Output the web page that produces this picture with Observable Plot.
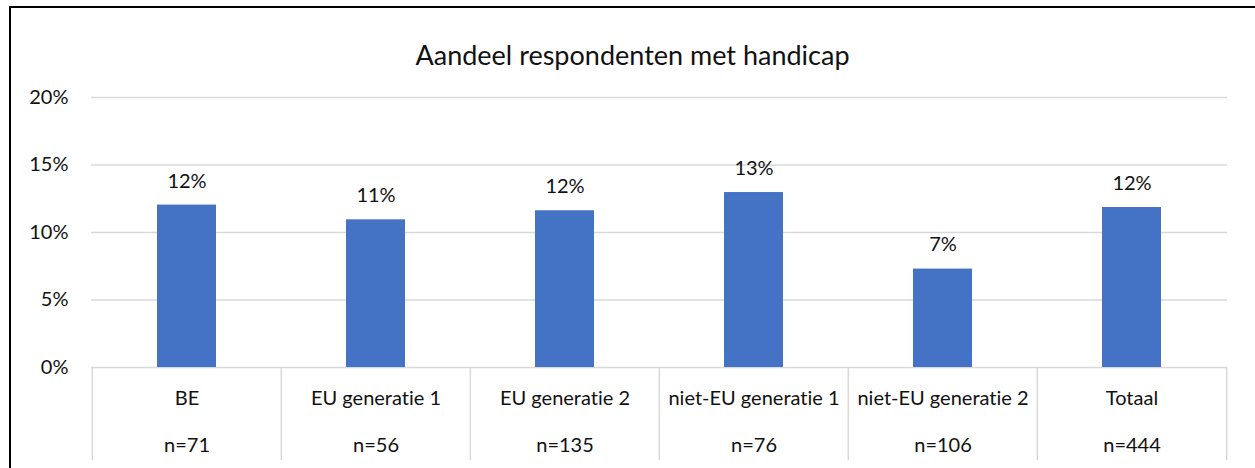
<!DOCTYPE html>
<html>
<head>
<meta charset="utf-8">
<script src="https://cdn.jsdelivr.net/npm/d3@7"></script>
<script src="https://cdn.jsdelivr.net/npm/@observablehq/plot@0.6"></script>
<style>
  html, body { margin: 0; padding: 0; background: #fff; overflow: hidden; }
  #wrap { position: relative; width: 1255px; height: 468px; }
  #border { position: absolute; left: 9px; top: 6px; width: 1270px; height: 480px; border: 2px solid #000; box-sizing: border-box; pointer-events: none; }
  #chart { position: absolute; left: 0; top: 0; }
  svg text { font-variant-ligatures: none; font-feature-settings: "liga" 0; }
</style>
</head>
<body>
<div id="wrap"><div id="chart"></div><div id="border"></div></div>
<script>
const title = "Aandeel respondenten met handicap";
const categories = ["BE", "EU generatie 1", "EU generatie 2", "niet-EU generatie 1", "niet-EU generatie 2", "Totaal"];
const counts = ["n=71", "n=56", "n=135", "n=76", "n=106", "n=444"];
const values = [12.03, 10.94, 11.61, 12.96, 7.29, 11.85];
const valueLabels = ["12%", "11%", "12%", "13%", "7%", "12%"];
const yTicks = [0, 5, 10, 15, 20];

const data = categories.map((c, i) => ({cat: c, n: counts[i], value: values[i], label: valueLabels[i]}));

const W = 1255, H = 468, mL = 91, mR = 28, mT = 97, mB = 101;
const bw = (W - mL - mR) / categories.length;
const axisDepth = -6.9; // category-axis separator depth, in y units below zero

const textColor = "#111";
const fs = 20;

const chart = Plot.plot({
  width: W,
  height: H,
  marginLeft: mL,
  marginRight: mR,
  marginTop: mT,
  marginBottom: mB,
  style: {fontFamily: "Lato, 'Open Sans', sans-serif", fontSize: fs + "px", color: textColor, background: "transparent", overflow: "visible"},
  x: {domain: categories, padding: 0, axis: null},
  y: {domain: [0, 20], axis: null},
  marks: [
    Plot.gridY(yTicks, {stroke: "#d9d9d9", strokeOpacity: 1, strokeWidth: 1.5}),
    Plot.axisY(yTicks, {tickSize: 0, tickPadding: 23, tickFormat: d => d + "%", label: null, fontSize: fs, fill: textColor}),
    Plot.ruleX(data, {x: "cat", y1: 0, y2: axisDepth, dx: -bw / 2, stroke: "#d9d9d9", strokeWidth: 1.5}),
    Plot.ruleX(data.slice(-1), {x: "cat", y1: 0, y2: axisDepth, dx: bw / 2, stroke: "#d9d9d9", strokeWidth: 1.5}),
    Plot.barY(data, {x: "cat", y: "value", fill: "#4472C4", insetLeft: 65, insetRight: 65}),
    Plot.text(data, {x: "cat", y: "value", text: "label", dy: -24, fontSize: fs, fill: textColor}),
    Plot.text(data, {x: "cat", y: () => 0, text: "cat", dy: 31, fontSize: fs, fill: textColor}),
    Plot.text(data, {x: "cat", y: () => 0, text: "n", dy: 78, fontSize: fs, fill: textColor}),
    Plot.text([title], {frameAnchor: "top", dy: -52, dx: -27, fontSize: 27, fill: textColor})
  ]
});
document.getElementById("chart").appendChild(chart);
</script>
</body>
</html>
